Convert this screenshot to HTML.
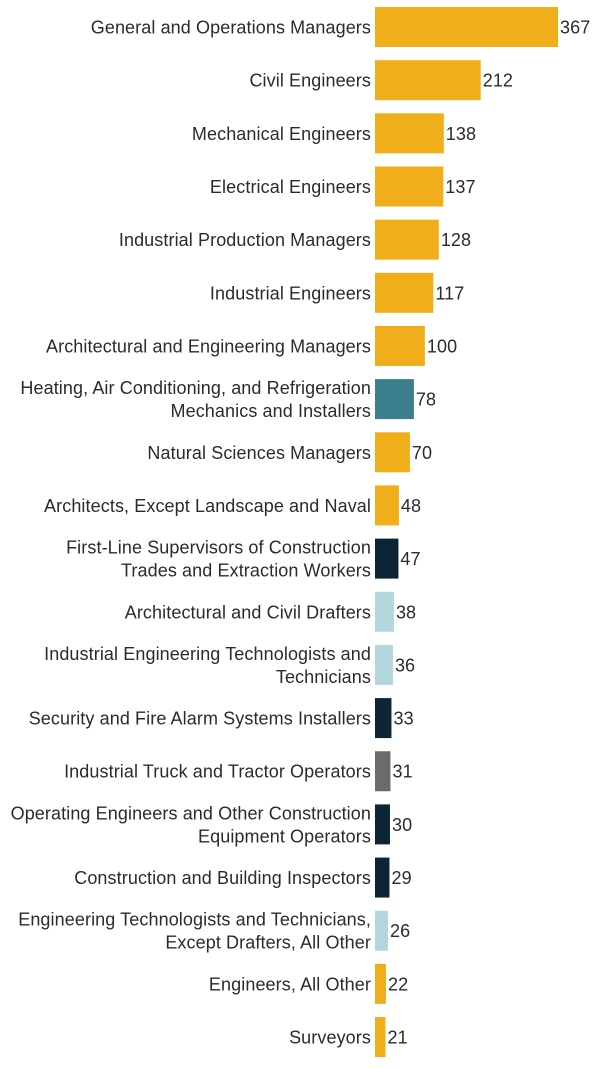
<!DOCTYPE html>
<html><head><meta charset="utf-8"><style>
body{margin:0;background:#fff;width:603px;height:1064px;overflow:hidden}
svg text{font-family:"Liberation Sans",sans-serif;font-size:18px;fill:#2b2b2b;letter-spacing:0.1px}
</style></head><body>
<svg id="chart" width="603" height="1064"></svg>
<script>
const categories=[["General and Operations Managers"],["Civil Engineers"],["Mechanical Engineers"],["Electrical Engineers"],["Industrial Production Managers"],["Industrial Engineers"],["Architectural and Engineering Managers"],["Heating, Air Conditioning, and Refrigeration","Mechanics and Installers"],["Natural Sciences Managers"],["Architects, Except Landscape and Naval"],["First-Line Supervisors of Construction","Trades and Extraction Workers"],["Architectural and Civil Drafters"],["Industrial Engineering Technologists and","Technicians"],["Security and Fire Alarm Systems Installers"],["Industrial Truck and Tractor Operators"],["Operating Engineers and Other Construction","Equipment Operators"],["Construction and Building Inspectors"],["Engineering Technologists and Technicians,","Except Drafters, All Other"],["Engineers, All Other"],["Surveyors"]];
const values=[367,212,138,137,128,117,100,78,70,48,47,38,36,33,31,30,29,26,22,21];
const groups=["g","g","g","g","g","g","g","t","g","g","d","l","l","d","x","d","d","l","g","g"];
const colors={g:"#F0AE1A",t:"#3B7F8F",d:"#0B2535",l:"#B3D6DC",x:"#6B6B6B"};
const svg=document.getElementById('chart');const NS="http://www.w3.org/2000/svg";
const x0=375,scale=0.4986,y0=27,step=53.16,bh=40;
const xs=v=>v*scale, ys=i=>y0+i*step;
values.forEach((v,i)=>{
 const cy=ys(i);
 const r=document.createElementNS(NS,'rect');
 r.setAttribute('x',x0);r.setAttribute('y',cy-bh/2);r.setAttribute('width',xs(v));r.setAttribute('height',bh);r.setAttribute('fill',colors[groups[i]]);
 
 
 svg.appendChild(r);
 const t=document.createElementNS(NS,'text');
 t.setAttribute('x',x0+xs(v)+2);t.setAttribute('y',cy+6.5);t.textContent=v;
 
 
 svg.appendChild(t);
 const lines=categories[i];
 lines.forEach((ln,j)=>{
  const l=document.createElementNS(NS,'text');
  l.setAttribute('x',371);l.setAttribute('text-anchor','end');
  l.setAttribute('y',cy+6.5+(j-(lines.length-1)/2)*23);
  l.textContent=ln;
  
  
  svg.appendChild(l);
 });
});
</script>
</body></html>
